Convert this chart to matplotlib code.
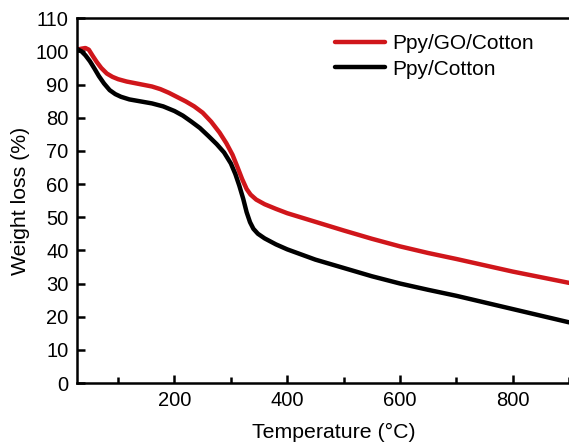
import numpy as np
import matplotlib.pyplot as plt
from matplotlib.ticker import MultipleLocator

plt.rcParams['font.family'] = ['Liberation Sans', 'DejaVu Sans']

# DATA #

T_go = [27, 35, 42, 48, 55, 62, 70, 80, 90, 100, 115, 130, 145, 160, 175, 190, 205, 220,
        235, 250, 265, 280, 292, 303, 312, 320, 328, 335, 345, 360, 380, 400, 450, 500,
        550, 600, 650, 700, 750, 800, 850, 900]
W_go = [100.5, 100.8, 101.0, 100.5, 98.6, 96.8, 95.0, 93.3, 92.3, 91.6, 90.9, 90.4, 89.9,
        89.4, 88.6, 87.5, 86.2, 84.9, 83.4, 81.5, 78.8, 75.5, 72.3, 68.8, 65.0, 61.5, 58.5,
        56.8, 55.3, 53.9, 52.5, 51.2, 48.6, 46.0, 43.5, 41.2, 39.2, 37.4, 35.5, 33.6, 31.9,
        30.2]

T_pc = [27, 35, 42, 50, 58, 66, 75, 85, 95, 105, 120, 140, 160, 180, 200, 215, 230, 245,
        260, 275, 288, 300, 308, 315, 322, 328, 334, 340, 348, 360, 380, 400, 450, 500,
        550, 600, 650, 700, 750, 800, 850, 900]
W_pc = [100.7, 100.0, 98.8, 97.0, 94.8, 92.5, 90.3, 88.3, 87.1, 86.3, 85.5, 84.9, 84.3,
        83.4, 82.0, 80.6, 78.8, 76.9, 74.5, 72.0, 69.5, 66.2, 63.0, 59.5, 55.5, 51.5, 48.5,
        46.5, 45.0, 43.6, 41.8, 40.3, 37.2, 34.7, 32.2, 30.0, 28.1, 26.3, 24.3, 22.3, 20.3,
        18.3]

# FIGURE #

fig = plt.figure(figsize=(5.69, 4.43), dpi=100)
ax = fig.add_axes([0.1353, 0.1354, 0.8647, 0.8236])

ax.plot(T_go, W_go, color='#d0161b', lw=3.2, label='Ppy/GO/Cotton',
        solid_capstyle='round', solid_joinstyle='round')
ax.plot(T_pc, W_pc, color='black', lw=3.2, label='Ppy/Cotton',
        solid_capstyle='round', solid_joinstyle='round')

ax.set_xlim(27, 900)
ax.set_ylim(0, 110)
ax.xaxis.set_major_locator(MultipleLocator(200))
ax.xaxis.set_minor_locator(MultipleLocator(100))
ax.yaxis.set_major_locator(MultipleLocator(10))

ax.spines['right'].set_visible(False)
for s in ('left', 'bottom', 'top'):
    ax.spines[s].set_linewidth(1.8)

ax.tick_params(which='both', direction='in', width=1.8, labelsize=14.5, top=False, right=False)
ax.tick_params(which='major', length=6, pad=6)
ax.tick_params(which='minor', length=4)

ax.set_xlabel('Temperature (°C)', fontsize=15.3)
ax.xaxis.set_label_coords(0.522, -0.11)
ax.set_ylabel('Weight loss (%)', fontsize=15.3, labelpad=4)

ax.legend(loc='upper right', bbox_to_anchor=(0.955, 0.99), frameon=False, fontsize=15,
          handlelength=2.4, handletextpad=0.35, labelspacing=0.3, borderaxespad=0.2)

fig.savefig('out.png', dpi=100)
